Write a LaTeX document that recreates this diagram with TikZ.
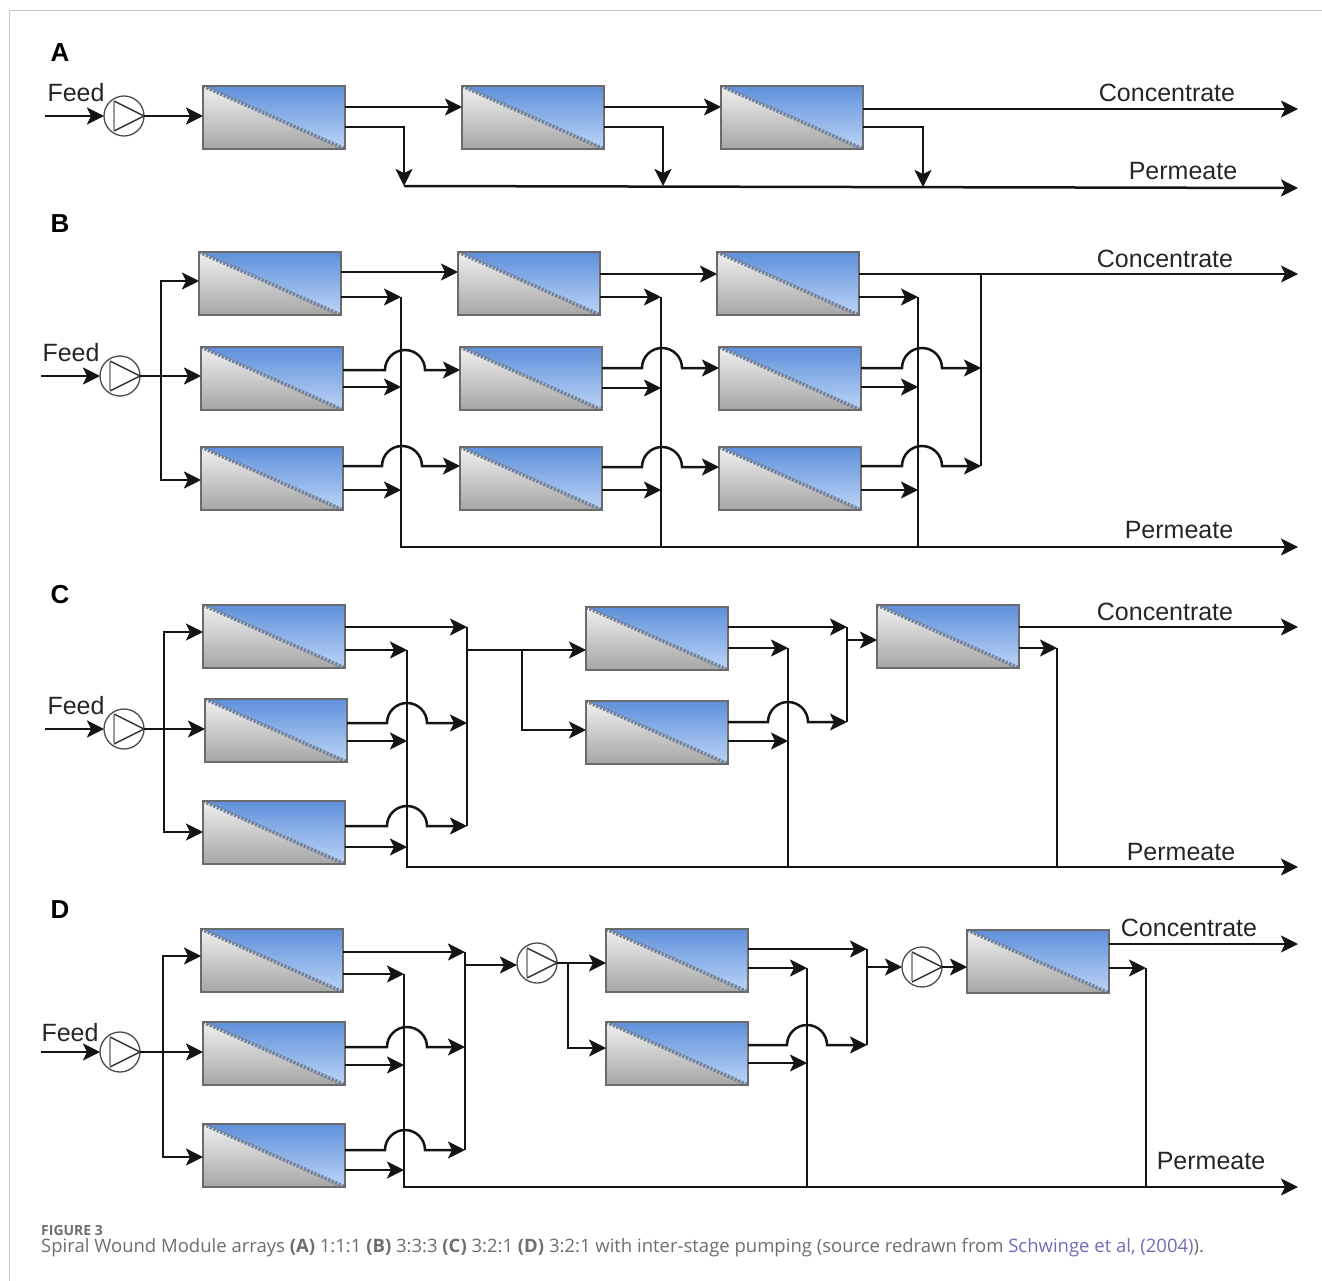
\documentclass[tikz,border=0pt]{standalone}
\usepackage{fontspec}
\setmainfont{Liberation Sans}
\newfontfamily\capfont{Open Sans}
\usetikzlibrary{arrows.meta, positioning}
\definecolor{capgray}{HTML}{6E6E6E}
\definecolor{linkblue}{HTML}{6F6DB8}
\definecolor{memtop}{HTML}{5F90DA}
\definecolor{membot}{HTML}{BCD5F7}
\definecolor{basetop}{HTML}{F0F0F0}
\definecolor{basebot}{HTML}{A6A6A6}
\definecolor{hatch}{HTML}{74829A}
\newcommand{\bridge}[4]{\draw[arr] (#1.east |- 0,#3) -- (#4,#3) arc[start angle=180, end angle=0, radius=20pt] -- (#2 |- 0,#3);}

\begin{document}
\begin{tikzpicture}[x=1pt, y=-1pt, >={Stealth[length=17pt, width=17pt, inset=4pt]},
      line/.style={line width=2.5pt, black!92},
      arr/.style={line, ->},
      module/.style={draw=black!58, line width=1.4pt, anchor=north west, minimum width=142pt, minimum height=63pt,
                   inner sep=0pt, outer sep=0pt, path picture={
                   \shade[top color=memtop, bottom color=membot]
                     (path picture bounding box.south west) rectangle (path picture bounding box.north east);
                   \shade[top color=basetop, bottom color=basebot]
                     (path picture bounding box.north west) -- (path picture bounding box.south east)
                     -- (path picture bounding box.south west) -- cycle;
                   \draw[line width=3.6pt, hatch, dash pattern=on 2.4pt off 1.4pt]
                     (path picture bounding box.north west) -- (path picture bounding box.south east);}},
      pump/.style={circle, draw=black!70, line width=1.3pt, minimum size=40pt, inner sep=0pt, outer sep=0pt, path picture={
                   \draw[black!40, line width=2.2pt] ([xshift=-10pt, yshift=14pt]path picture bounding box.center)
                     -- ([xshift=-10pt, yshift=-14pt]path picture bounding box.center);
                   \draw[black!80, line width=1.4pt] ([xshift=-10pt, yshift=15pt]path picture bounding box.center)
                     -- ([xshift=20pt]path picture bounding box.center)
                     -- ([xshift=-10pt, yshift=-15pt]path picture bounding box.center);}},
      panel/.style={font=\fontsize{26}{30}\selectfont\bfseries},
      tag/.style={font=\fontsize{25}{30}\selectfont, text=black!85},
      capline/.style={anchor=west, inner sep=0pt, text=capgray, font=\capfont\fontsize{18.5}{22}\selectfont}]

    \useasboundingbox (0,0) rectangle (1322,1281);

    % Page frame
    \draw[black!22, line width=1pt] (9.5,1281) -- (9.5,11) -- (1322,11);

    % Panel A
    \node[panel] (labA) at (60,53) {A};
    \node[tag] (feedA) at (76,93) {Feed};
    \node[tag] (concA) at (1167,93) {Concentrate};
    \node[tag] (permA) at (1183,171) {Permeate};
    \node[pump] (pumpA) at (124,116) {};
    \node[module] (a1) at (203,86) {};
    \node[module] (a2) at (462,86) {};
    \node[module] (a3) at (721,86) {};
    \coordinate (fa) at (45,116);
    \coordinate (pa1) at (404,186);
    \coordinate (pa2) at (663,186);
    \coordinate (pa3) at (923,187);
    \coordinate (par) at (1298,188);
    \coordinate (car) at (1298,109);

    \draw[arr] (fa) -- (pumpA);
    \draw[arr] (pumpA) -- (a1.west |- pumpA);
    \draw[arr] (a1.east |- 0,107) -- (a2.west |- 0,107);
    \draw[arr] (a2.east |- 0,107) -- (a3.west |- 0,107);
    \draw[arr] (a3.east |- car) -- (car);
    \draw[arr] (a1.east |- 0,127) -| (pa1);
    \draw[arr] (a2.east |- 0,127) -| (pa2);
    \draw[arr] (a3.east |- 0,127) -| (pa3);
    \draw[arr] (pa1) -- (par);

    % Panel B
    \node[panel] (labB) at (60,224) {B};
    \node[tag] (feedB) at (71,353) {Feed};
    \node[tag] (concB) at (1165,259) {Concentrate};
    \node[tag] (permB) at (1179,530) {Permeate};
    \node[pump] (pumpB) at (120,376) {};
    \node[module] (b11) at (199,252) {};
    \node[module] (b12) at (458,252) {};
    \node[module] (b13) at (717,252) {};
    \node[module] (b21) at (201,347) {};
    \node[module] (b22) at (460,347) {};
    \node[module] (b23) at (719,347) {};
    \node[module] (b31) at (201,447) {};
    \node[module] (b32) at (460,447) {};
    \node[module] (b33) at (719,447) {};
    \coordinate (fb) at (41,376);
    \coordinate (sb) at (161,376);
    \coordinate (pb1) at (401,297);
    \coordinate (pb2) at (661,297);
    \coordinate (pb3) at (918,297);
    \coordinate (pbr) at (1298,547);
    \coordinate (cb) at (981,274);
    \coordinate (cbr) at (1298,274);
    \coordinate (cb2) at (981,368);
    \coordinate (cb3) at (981,466);

    \draw[arr] (fb) -- (pumpB);
    \draw[arr] (pumpB) -- (b21.west |- pumpB);
    \draw[arr] (sb) |- (b11.west |- 0,281);
    \draw[arr] (sb) |- (b31.west |- 0,480);
    \draw[arr] (b11.east |- 0,272) -- (b12.west |- 0,272);
    \draw[arr] (b12.east |- 0,274) -- (b13.west |- 0,274);
    \draw[arr] (b13.east |- cbr) -- (cbr);
    \draw[line] (cb) -- (cb3);
    \bridge{b21}{b22.west}{370}{385}
    \bridge{b22}{b23.west}{368}{642}
    \bridge{b23}{cb2}{368}{902}
    \bridge{b31}{b32.west}{466}{382}
    \bridge{b32}{b33.west}{467}{642}
    \bridge{b33}{cb3}{466}{902}
    \draw[arr] (b11.east |- pb1) -- (pb1);
    \draw[arr] (b12.east |- pb2) -- (pb2);
    \draw[arr] (b13.east |- pb3) -- (pb3);
    \draw[arr] (b21.east |- 0,387) -- (pb1 |- 0,387);
    \draw[arr] (b22.east |- 0,388) -- (pb2 |- 0,388);
    \draw[arr] (b23.east |- 0,387) -- (pb3 |- 0,387);
    \draw[arr] (b31.east |- 0,490) -- (pb1 |- 0,490);
    \draw[arr] (b32.east |- 0,490) -- (pb2 |- 0,490);
    \draw[arr] (b33.east |- 0,490) -- (pb3 |- 0,490);
    \draw[arr] (pb1) |- (pbr);
    \draw[line] (pb2) -- (pb2 |- pbr);
    \draw[line] (pb3) -- (pb3 |- pbr);

    % Panel C
    \node[panel] (labC) at (60,595) {C};
    \node[tag] (feedC) at (76,706) {Feed};
    \node[tag] (concC) at (1165,612) {Concentrate};
    \node[tag] (permC) at (1181,852) {Permeate};
    \node[pump] (pumpC) at (124,729) {};
    \node[module] (c11) at (203,605) {};
    \node[module] (c21) at (205,699) {};
    \node[module] (c31) at (203,801) {};
    \node[module] (c12) at (586,607) {};
    \node[module] (c22) at (586,701) {};
    \node[module] (c13) at (877,605) {};
    \coordinate (fc) at (45,729);
    \coordinate (sc) at (164,729);
    \coordinate (pc1) at (407,650);
    \coordinate (pc2) at (788,648);
    \coordinate (pc3) at (1057,648);
    \coordinate (pcr) at (1298,867);
    \coordinate (cc1) at (467,627);
    \coordinate (cc2) at (467,723);
    \coordinate (cc3) at (467,826);
    \coordinate (jc1) at (467,650);
    \coordinate (jc2) at (522,650);
    \coordinate (dc1) at (847,627);
    \coordinate (dc2) at (847,722);
    \coordinate (dc3) at (847,640);
    \coordinate (ccr) at (1298,627);

    \draw[arr] (fc) -- (pumpC);
    \draw[arr] (pumpC) -- (c21.west |- pumpC);
    \draw[arr] (sc) |- (c11.west |- 0,632);
    \draw[arr] (sc) |- (c31.west |- 0,832);
    \draw[arr] (c11.east |- cc1) -- (cc1);
    \bridge{c21}{cc2}{723}{387}
    \bridge{c31}{cc3}{826}{387}
    \draw[line] (cc1) -- (cc3);
    \draw[arr] (jc1) -- (c12.west |- jc1);
    \draw[arr] (jc2) |- (c22.west |- 0,730);
    \draw[arr] (c12.east |- dc1) -- (dc1);
    \bridge{c22}{dc2}{722}{768}
    \draw[line] (dc1) -- (dc2);
    \draw[arr] (dc3) -- (c13.west |- dc3);
    \draw[arr] (c13.east |- ccr) -- (ccr);
    \draw[arr] (c11.east |- pc1) -- (pc1);
    \draw[arr] (c21.east |- 0,741) -- (pc1 |- 0,741);
    \draw[arr] (c31.east |- 0,847) -- (pc1 |- 0,847);
    \draw[arr] (c12.east |- pc2) -- (pc2);
    \draw[arr] (c22.east |- 0,741) -- (pc2 |- 0,741);
    \draw[arr] (c13.east |- pc3) -- (pc3);
    \draw[arr] (pc1) |- (pcr);
    \draw[line] (pc2) -- (pc2 |- pcr);
    \draw[line] (pc3) -- (pc3 |- pcr);

    % Panel D
    \node[panel] (labD) at (60,910) {D};
    \node[tag] (feedD) at (70,1033) {Feed};
    \node[tag] (concD) at (1189,928) {Concentrate};
    \node[tag] (permD) at (1211,1161) {Permeate};
    \node[pump] (pumpD) at (120,1052) {};
    \node[pump] (pumpE) at (537,963) {};
    \node[pump] (pumpF) at (922,967) {};
    \node[module] (d11) at (201,929) {};
    \node[module] (d21) at (203,1022) {};
    \node[module] (d31) at (203,1124) {};
    \node[module] (d12) at (606,929) {};
    \node[module] (d22) at (606,1022) {};
    \node[module] (d13) at (967,930) {};
    \coordinate (fd) at (41,1052);
    \coordinate (sd) at (163,1052);
    \coordinate (pd1) at (404,974);
    \coordinate (pd2) at (807,968);
    \coordinate (pd3) at (1146,968);
    \coordinate (pdr) at (1298,1187);
    \coordinate (ed1) at (465,952);
    \coordinate (ed2) at (465,1047);
    \coordinate (ed3) at (465,1150);
    \coordinate (jd1) at (465,965);
    \coordinate (jd2) at (568,963);
    \coordinate (gd1) at (867,949);
    \coordinate (gd2) at (867,1045);
    \coordinate (gd3) at (867,967);
    \coordinate (cdr) at (1298,944);

    \draw[arr] (fd) -- (pumpD);
    \draw[arr] (pumpD) -- (d21.west |- pumpD);
    \draw[arr] (sd) |- (d11.west |- 0,956);
    \draw[arr] (sd) |- (d31.west |- 0,1157);
    \draw[arr] (d11.east |- ed1) -- (ed1);
    \bridge{d21}{ed2}{1047}{387}
    \bridge{d31}{ed3}{1150}{385}
    \draw[line] (ed1) -- (ed3);
    \draw[arr] (jd1) -- (pumpE.west |- jd1);
    \draw[arr] (pumpE) -- (d12.west |- pumpE);
    \draw[arr] (jd2) |- (d22.west |- 0,1048);
    \draw[arr] (d12.east |- gd1) -- (gd1);
    \bridge{d22}{gd2}{1045}{787}
    \draw[line] (gd1) -- (gd2);
    \draw[arr] (gd3) -- (pumpF);
    \draw[arr] (pumpF) -- (d13.west |- pumpF);
    \draw[arr] (d13.east |- cdr) -- (cdr);
    \draw[arr] (d11.east |- pd1) -- (pd1);
    \draw[arr] (d21.east |- 0,1065) -- (pd1 |- 0,1065);
    \draw[arr] (d31.east |- 0,1170) -- (pd1 |- 0,1170);
    \draw[arr] (d12.east |- pd2) -- (pd2);
    \draw[arr] (d22.east |- 0,1063) -- (pd2 |- 0,1063);
    \draw[arr] (d13.east |- pd3) -- (pd3);
    \draw[arr] (pd1) |- (pdr);
    \draw[line] (pd2) -- (pd2 |- pdr);
    \draw[line] (pd3) -- (pd3 |- pdr);

    % Caption
    \node[capline, font=\capfont\bfseries\fontsize{14}{17}\selectfont] (capA) at (41,1230) {FIGURE 3};
    \node[capline] (capB) at (41,1248) {Spiral Wound Module arrays \textbf{(A)} 1:1:1 \textbf{(B)} 3:3:3 \textbf{(C)} 3:2:1 \textbf{(D)} 3:2:1 with inter-stage pumping (source redrawn from \textcolor{linkblue}{Schwinge et al, (2004)}).};

\end{tikzpicture}
\end{document}
